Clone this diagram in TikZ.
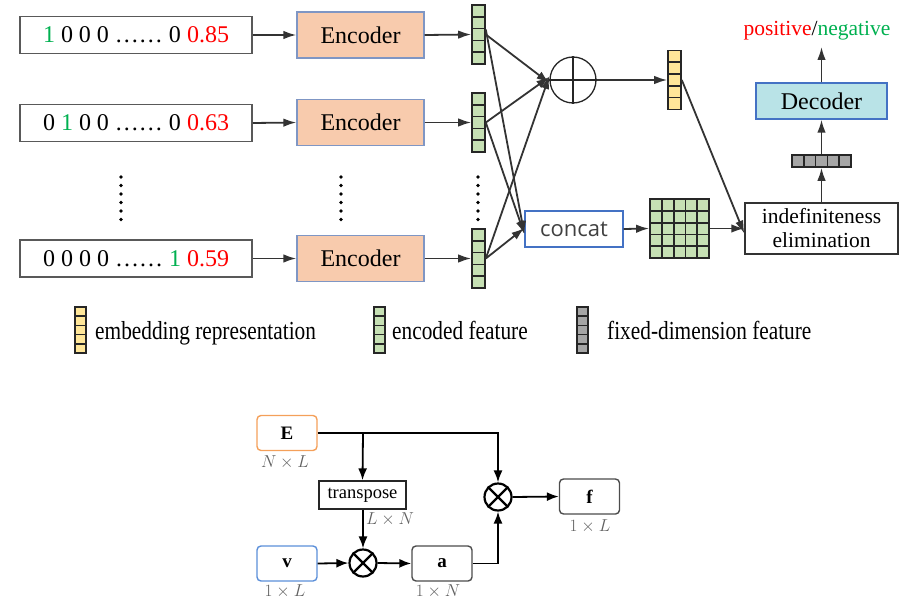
\documentclass[tikz,border=0pt]{standalone}
\usepackage{fontspec}
\setmainfont{Liberation Serif}
\newfontfamily\condfont[FakeStretch=0.82]{Liberation Serif}
\newfontfamily\concatfont{Open Sans}
\usetikzlibrary{arrows.meta,calc}
\definecolor{cgreen}{HTML}{00B050}
\definecolor{cred}{HTML}{FF0000}
\definecolor{encfill}{HTML}{F8CBAD}
\definecolor{encdraw}{HTML}{7F96C4}
\definecolor{decfill}{HTML}{B9E3E7}
\definecolor{decdraw}{HTML}{4472C4}
\definecolor{vgreen}{HTML}{C6E0B4}
\definecolor{vyellow}{HTML}{FFE699}
\definecolor{vgray}{HTML}{A6A6A6}
\definecolor{cellline}{HTML}{262626}
\definecolor{dimgray}{HTML}{606060}
\definecolor{eorange}{HTML}{F4A05A}
\definecolor{vblue}{HTML}{5B8FD9}
\tikzset{
  fs/.style={font=\fontsize{#1}{#1}\selectfont},
  inbox/.style={draw=black!65, line width=1.6pt, minimum width=232pt, minimum height=37pt, inner sep=0pt, fs=24},
  encbox/.style={draw=encdraw, fill=encfill, line width=1.3pt, minimum width=127pt, minimum height=46pt, inner sep=0pt, fs=24},
  vcells/.style={draw=cellline, fill=#1, line width=1.6pt, inner sep=0pt, minimum width=13pt, minimum height=59pt,
    path picture={\foreach \k in {1,2,3,4}{\draw[cellline,line width=1.6pt]
      ($(path picture bounding box.north west)!\k/5!(path picture bounding box.south west)$) --
      ($(path picture bounding box.north east)!\k/5!(path picture bounding box.south east)$);}}},
  legcells/.style={vcells=#1, minimum width=11pt, minimum height=46pt, line width=1.3pt},
  hcells/.style={draw=cellline, fill=#1, line width=1.6pt, inner sep=0pt, minimum width=59pt, minimum height=12pt,
    path picture={\foreach \k in {1,2,3,4}{\draw[cellline,line width=1.6pt]
      ($(path picture bounding box.north west)!\k/5!(path picture bounding box.north east)$) --
      ($(path picture bounding box.south west)!\k/5!(path picture bounding box.south east)$);}}},
  gridcells/.style={draw=cellline, fill=#1, line width=1.8pt, inner sep=0pt, minimum width=59pt, minimum height=59pt,
    path picture={\foreach \k in {1,2,3,4}{\draw[cellline,line width=1.8pt]
      ($(path picture bounding box.north west)!\k/5!(path picture bounding box.north east)$) --
      ($(path picture bounding box.south west)!\k/5!(path picture bounding box.south east)$);
      \draw[cellline,line width=1.8pt]
      ($(path picture bounding box.north west)!\k/5!(path picture bounding box.south west)$) --
      ($(path picture bounding box.north east)!\k/5!(path picture bounding box.south east)$);}}},
  arr/.style={-{Latex[length=13pt,width=8.5pt]}, line width=1.8pt, draw=black!80, fill=black!80},
  legtext/.style={anchor=base west, inner sep=0pt, font=\condfont\fontsize{26}{26}\selectfont},
  rbox/.style={draw=#1, line width=1.4pt, rounded corners=4pt, minimum width=60pt, minimum height=35pt, inner sep=0pt, font=\fontsize{19}{19}\selectfont\bfseries},
  dimlab/.style={text=dimgray, inner sep=0pt, font=\fontsize{16}{16}\selectfont},
  otimesn/.style={circle, draw=black, line width=2.2pt, minimum size=27pt, inner sep=0pt},
  barr/.style={-{Latex[length=12pt,width=9pt]}, line width=1.8pt},
}
\begin{document}
\begin{tikzpicture}[x=1pt,y=-1pt]
\useasboundingbox (0,0) rectangle (912,607);

% inputs
\node[inbox] (in1) at (136,35) {\textcolor{cgreen}{1} 0 0 0 …… 0 \textcolor{cred}{0.85}};
\node[inbox] (in2) at (136,123) {0 \textcolor{cgreen}{1} 0 0 …… 0 \textcolor{cred}{0.63}};
\node[inbox] (in3) at (136,258.5) {0 0 0 0 …… \textcolor{cgreen}{1} \textcolor{cred}{0.59}};

% encoders
\node[encbox] (enc1) at (360.5,35) {Encoder};
\node[encbox] (enc2) at (360.5,122.5) {Encoder};
\node[encbox] (enc3) at (360.5,258.5) {Encoder};

% encoded vectors
\node[vcells=vgreen] (v1) at (478.5,34.5) {};
\node[vcells=vgreen] (v2) at (478.5,122.5) {};
\node[vcells=vgreen] (v3) at (478.5,258.5) {};

% vertical dots
\foreach \xx in {121,341,478}{
  \foreach \yy in {177,185.5,194,202.5,211,219.5}{
    \fill (\xx,\yy) circle (1.9pt);
  }
}

\draw[arr] (in1.east) -- (enc1.west);
\draw[arr] (in2.east) -- (enc2.west);
\draw[arr] (in3.east) -- (enc3.west);
\draw[arr] (enc1.east) -- (v1.west);
\draw[arr] (enc2.east) -- (v2.west);
\draw[arr] (enc3.east) -- (v3.west);

% oplus
\node[circle, draw=black!85, line width=1.3pt, minimum size=46pt, inner sep=0pt] (oplus) at (573,80) {};
\draw[line width=1.3pt, black!85] (oplus.north) -- (oplus.south);
\draw[line width=1.3pt, black!85] (oplus.west) -- (oplus.east);

% concat
\node[draw=decdraw, line width=1.3pt, minimum width=98pt, minimum height=36pt, inner sep=0pt, text=black!75,
      font=\concatfont\fontsize{22}{22}\selectfont] (concat) at (574,229) {concat};

\draw[arr] (v1.east) -- ([yshift=-3pt]oplus.west);
\draw[arr] (v2.east) -- ([yshift=3pt]oplus.west);
\draw[arr] (v3.east) -- ([yshift=4pt]oplus.west);
\draw[arr] ([yshift=5pt]v1.east) -- ([yshift=-5pt]concat.west);
\draw[arr] (v2.east) -- ([yshift=-5pt]concat.west);
\draw[arr] (v3.east) -- ([yshift=1pt]concat.west);

% embedding
\node[vcells=vyellow] (emb) at (674.5,80) {};
\draw[arr] (oplus.east) -- (emb.west);

% matrix
\node[gridcells=vgreen] (mat) at (679.5,228.5) {};
\draw[arr] (concat.east) -- (mat.west);

% indefiniteness elimination
\node[draw=black!80, line width=1.4pt, minimum width=153pt, minimum height=51pt, inner sep=0pt, align=center,
      font=\fontsize{21.5}{24}\selectfont] (indef) at (821.5,228.5) {indefiniteness\\elimination};
\draw[arr] (mat.east) -- (indef.west);
\draw[arr] (emb.east) -- ([yshift=-5pt]indef.west);

% fixed-dimension
\node[hcells=vgray] (fix) at (821.5,161) {};
\draw[arr] (indef.north) -- (fix.south);

% decoder
\node[draw=decdraw, fill=decfill, line width=1.4pt, minimum width=131pt, minimum height=36pt, inner sep=0pt,
      font=\fontsize{24}{24}\selectfont] (dec) at (821.5,101) {Decoder};
\draw[arr] (fix.north) -- (dec.south);

\node[inner sep=0pt, font=\fontsize{21.5}{21.5}\selectfont] (out) at (817,31) {\textcolor{cred}{positive}/\textcolor{cgreen}{negative}};
\coordinate (outb) at (821.5,47);
\draw[arr] (dec.north) -- (outb);

% legend
\node[legcells=vyellow] (l1) at (80.5,330) {};
\node[legtext] (lt1) at (95,339) {embedding representation};
\node[legcells=vgreen] (l2) at (379.5,330) {};
\node[legtext] (lt2) at (392,339) {encoded feature};
\node[legcells=vgray] (l3) at (582.5,330) {};
\node[legtext] (lt3) at (607,339) {fixed-dimension feature};

% bottom diagram
\node[rbox=eorange] (E) at (287,433) {E};
\node[dimlab] (Ed) at (285,462) {$N\times L$};
\node[rbox=vblue] (V) at (287,563.5) {v};
\node[dimlab] (Vd) at (285,591) {$1\times L$};
\node[draw=black!85, line width=1.4pt, minimum width=87pt, minimum height=28pt, inner sep=0pt,
      font=\fontsize{18.5}{18.5}\selectfont] (tr) at (362.5,495) {transpose};
\node[dimlab] (trd) at (390,519) {$L\times N$};
\node[otimesn] (ot1) at (363,563) {};
\draw[line width=2.2pt] (ot1.north west) -- (ot1.south east);
\draw[line width=2.2pt] (ot1.north east) -- (ot1.south west);
\node[rbox=black!70] (A) at (442,563.5) {a};
\node[dimlab] (Ad) at (438,591) {$1\times N$};
\node[otimesn] (ot2) at (498,497) {};
\draw[line width=2.2pt] (ot2.north west) -- (ot2.south east);
\draw[line width=2.2pt] (ot2.north east) -- (ot2.south west);
\node[rbox=black!70] (F) at (589.5,496.5) {f};
\node[dimlab] (Fd) at (590,526) {$1\times L$};

\draw[barr] (E.east) -| (ot2.north);
\draw[barr] (E.east -| ot1.north) -- (tr.north);
\draw[barr] (tr.south -| ot1.north) -- (ot1.north);
\draw[barr] (V.east) -- (ot1.west);
\draw[barr] (ot1.east) -- (A.west);
\draw[barr] (A.east) -| (ot2.south);
\draw[barr] (ot2.east) -- (F.west);
\end{tikzpicture}
\end{document}
